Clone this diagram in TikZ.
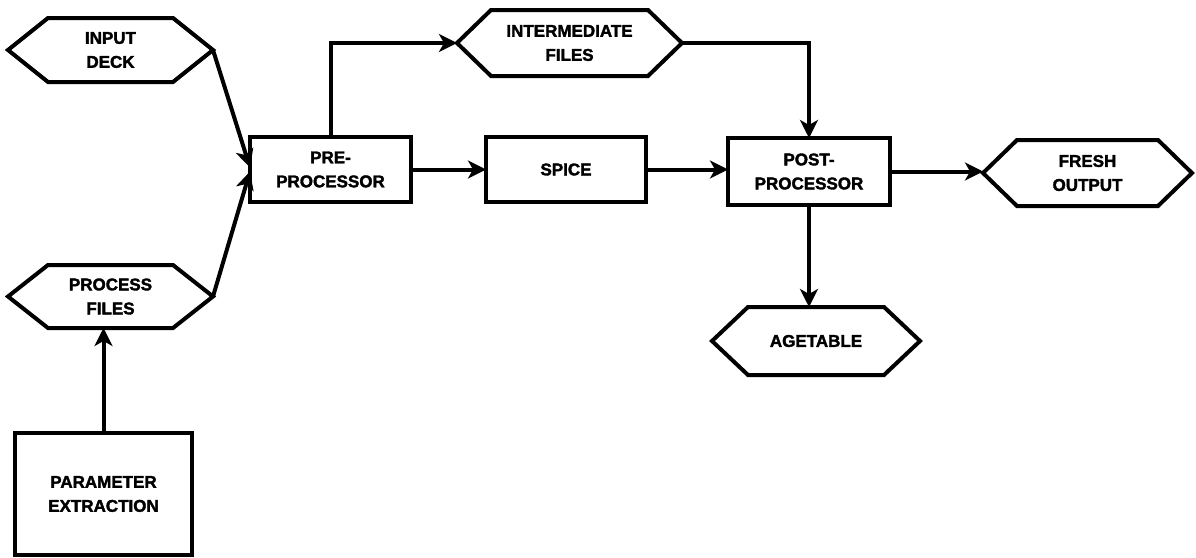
\documentclass[tikz,border=0pt]{standalone}
\usepackage{fontspec}
\setmainfont{Liberation Sans}[BoldFeatures={FakeBold=2}]
\usetikzlibrary{arrows.meta,calc}
\tikzset{
  lbl/.style={font=\bfseries\fontsize{17}{24}\selectfont, align=center, inner sep=0pt},
  boxnode/.style={lbl, draw, line width=4pt, outer sep=0pt},
  hexnode/.style={lbl, outer sep=0pt},
  hexline/.style={draw, line width=4pt, line join=miter},
  conn/.style={line width=4pt, -{Stealth[length=18pt,width=18pt,inset=5pt]}}
}
\newcommand\hexdraw[2]{\path[hexline] (#1.west) -- ([xshift=#2]#1.north west) -- ([xshift=-#2]#1.north east) -- (#1.east) -- ([xshift=-#2]#1.south east) -- ([xshift=#2]#1.south west) -- cycle;}
\begin{document}
\begin{tikzpicture}[x=1pt,y=-1pt]
\useasboundingbox (0,0) rectangle (1196,557);
% hexagons
\node[hexnode, minimum width=205pt, minimum height=64pt] (deck) at (110.5,50) {INPUT\\DECK};
\node[hexnode, minimum width=205pt, minimum height=63pt] (proc) at (110.5,296.5) {PROCESS\\FILES};
\node[hexnode, minimum width=225pt, minimum height=66pt] (inter) at (569.5,43) {INTERMEDIATE\\FILES};
\node[hexnode, minimum width=209pt, minimum height=66pt] (fresh) at (1087.5,173) {FRESH\\OUTPUT};
\node[hexnode, minimum width=208pt, minimum height=68pt] (age) at (816,341) {AGETABLE};
\hexdraw{deck}{40pt}
\hexdraw{proc}{40pt}
\hexdraw{inter}{34pt}
\hexdraw{fresh}{34pt}
\hexdraw{age}{36pt}
% boxes
\node[boxnode, minimum width=161pt, minimum height=65pt] (pre) at (330.5,169.5) {PRE-\\PROCESSOR};
\node[boxnode, minimum width=160pt, minimum height=65pt] (spice) at (566,169.5) {SPICE};
\node[boxnode, minimum width=162pt, minimum height=67pt] (post) at (809,171.5) {POST-\\PROCESSOR};
\node[boxnode, minimum width=177pt, minimum height=122pt] (param) at (103.5,494) {PARAMETER\\EXTRACTION};
% connectors
\draw[conn] (deck.east) -- ([yshift=2pt]pre.west);
\draw[conn] (proc.east) -- ([yshift=-2pt]pre.west);
\draw[conn] (pre.north) |- (inter.west);
\draw[conn] (inter.east) -| (post.north);
\draw[conn] (pre.east) -- (pre.east -| spice.west);
\draw[conn] (spice.east) -- (spice.east -| post.west);
\draw[conn] (post.east) -- (post.east -| fresh.west);
\draw[conn] (post.south) -- (post.south |- age.north);
\draw[conn] (param.north) -- (param.north |- proc.south);
\end{tikzpicture}
\end{document}
